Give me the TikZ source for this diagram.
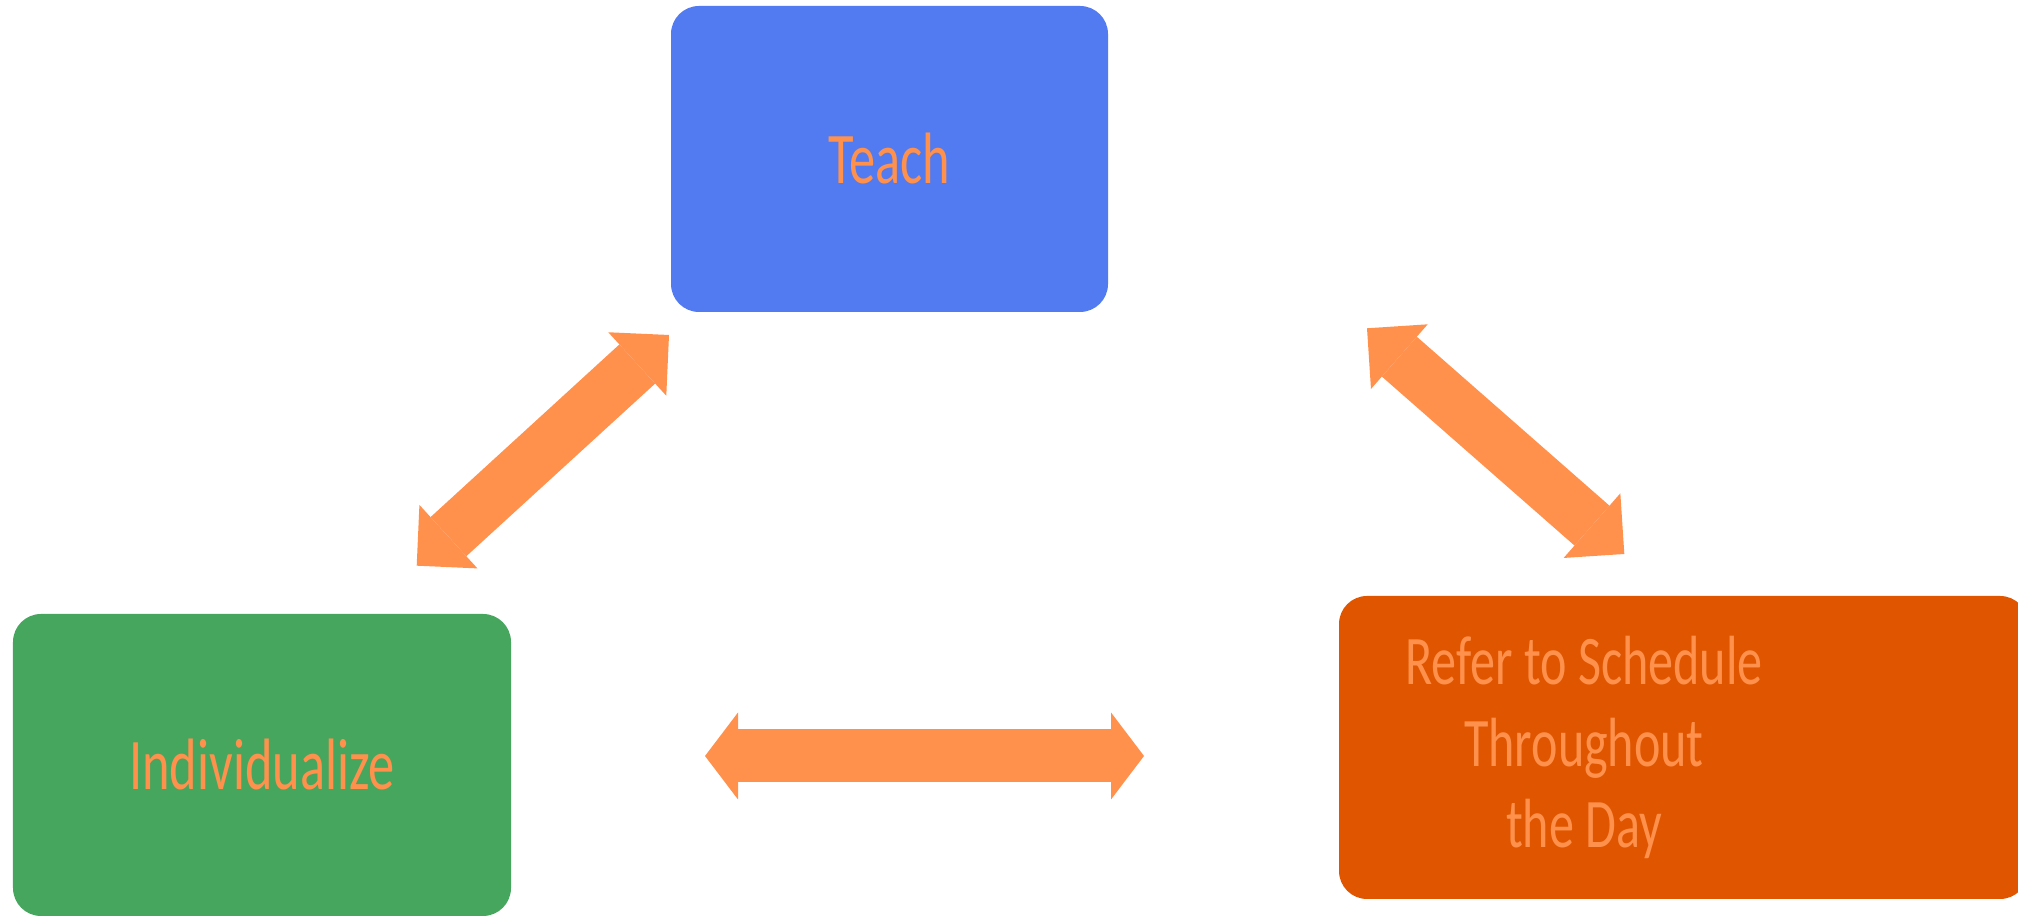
\documentclass[tikz,border=0pt]{standalone}
\usepackage{fontspec}
\setmainfont[FakeStretch=0.72]{Carlito}
\usepackage{tikz}
\usetikzlibrary{arrows.meta}

\definecolor{teachblue}{HTML}{527BF2}
\definecolor{indivgreen}{HTML}{46A65E}
\definecolor{referred}{HTML}{E05600}
\definecolor{linkorange}{HTML}{FF914D}

\tikzset{
  box/.style={rounded corners=0.28cm, inner sep=0pt, text=linkorange,
    font=\fontsize{20.7}{23.4}\selectfont},
  slant/.style={linkorange, line width=0.53cm,
    {Triangle[length=0.43cm,width=0.86cm,line width=0pt]}-{Triangle[length=0.43cm,width=0.86cm,line width=0pt]}},
  flat/.style={linkorange, line width=0.53cm,
    {Triangle[length=0.33cm,width=0.87cm,line width=0pt]}-{Triangle[length=0.33cm,width=0.87cm,line width=0pt]}}
}

\begin{document}
\begin{tikzpicture}
\useasboundingbox (0,0) rectangle (20.18,9.16);

\node [box, fill=teachblue, minimum width=4.37cm, minimum height=3.06cm] (teach) at (8.895,7.57) {Teach};
\node [box, fill=indivgreen, minimum width=4.98cm, minimum height=3.02cm] (indiv) at (2.62,1.51) {Individualize};
\node [box, fill=referred, minimum width=6.89cm, minimum height=3.03cm] (refer) at (16.835,1.685) {};
\node [text=linkorange, align=center, inner sep=0pt,
  font=\fontsize{19.8}{23.3}\selectfont] (refertext) at ([xshift=-0.995cm]refer.center)
  {Refer to Schedule\\Throughout\\the Day};

% block arrows between the boxes
\coordinate (tl1) at (4.167,3.503);
\coordinate (tl2) at (6.69,5.81);
\coordinate (tr1) at (13.67,5.877);
\coordinate (tr2) at (16.243,3.62);
\coordinate (bt1) at (7.05,1.60);
\coordinate (bt2) at (11.44,1.60);

\draw [slant] (tl1) -- (tl2);
\draw [slant] (tr1) -- (tr2);
\draw [flat] (bt1) -- (bt2);
\end{tikzpicture}
\end{document}
